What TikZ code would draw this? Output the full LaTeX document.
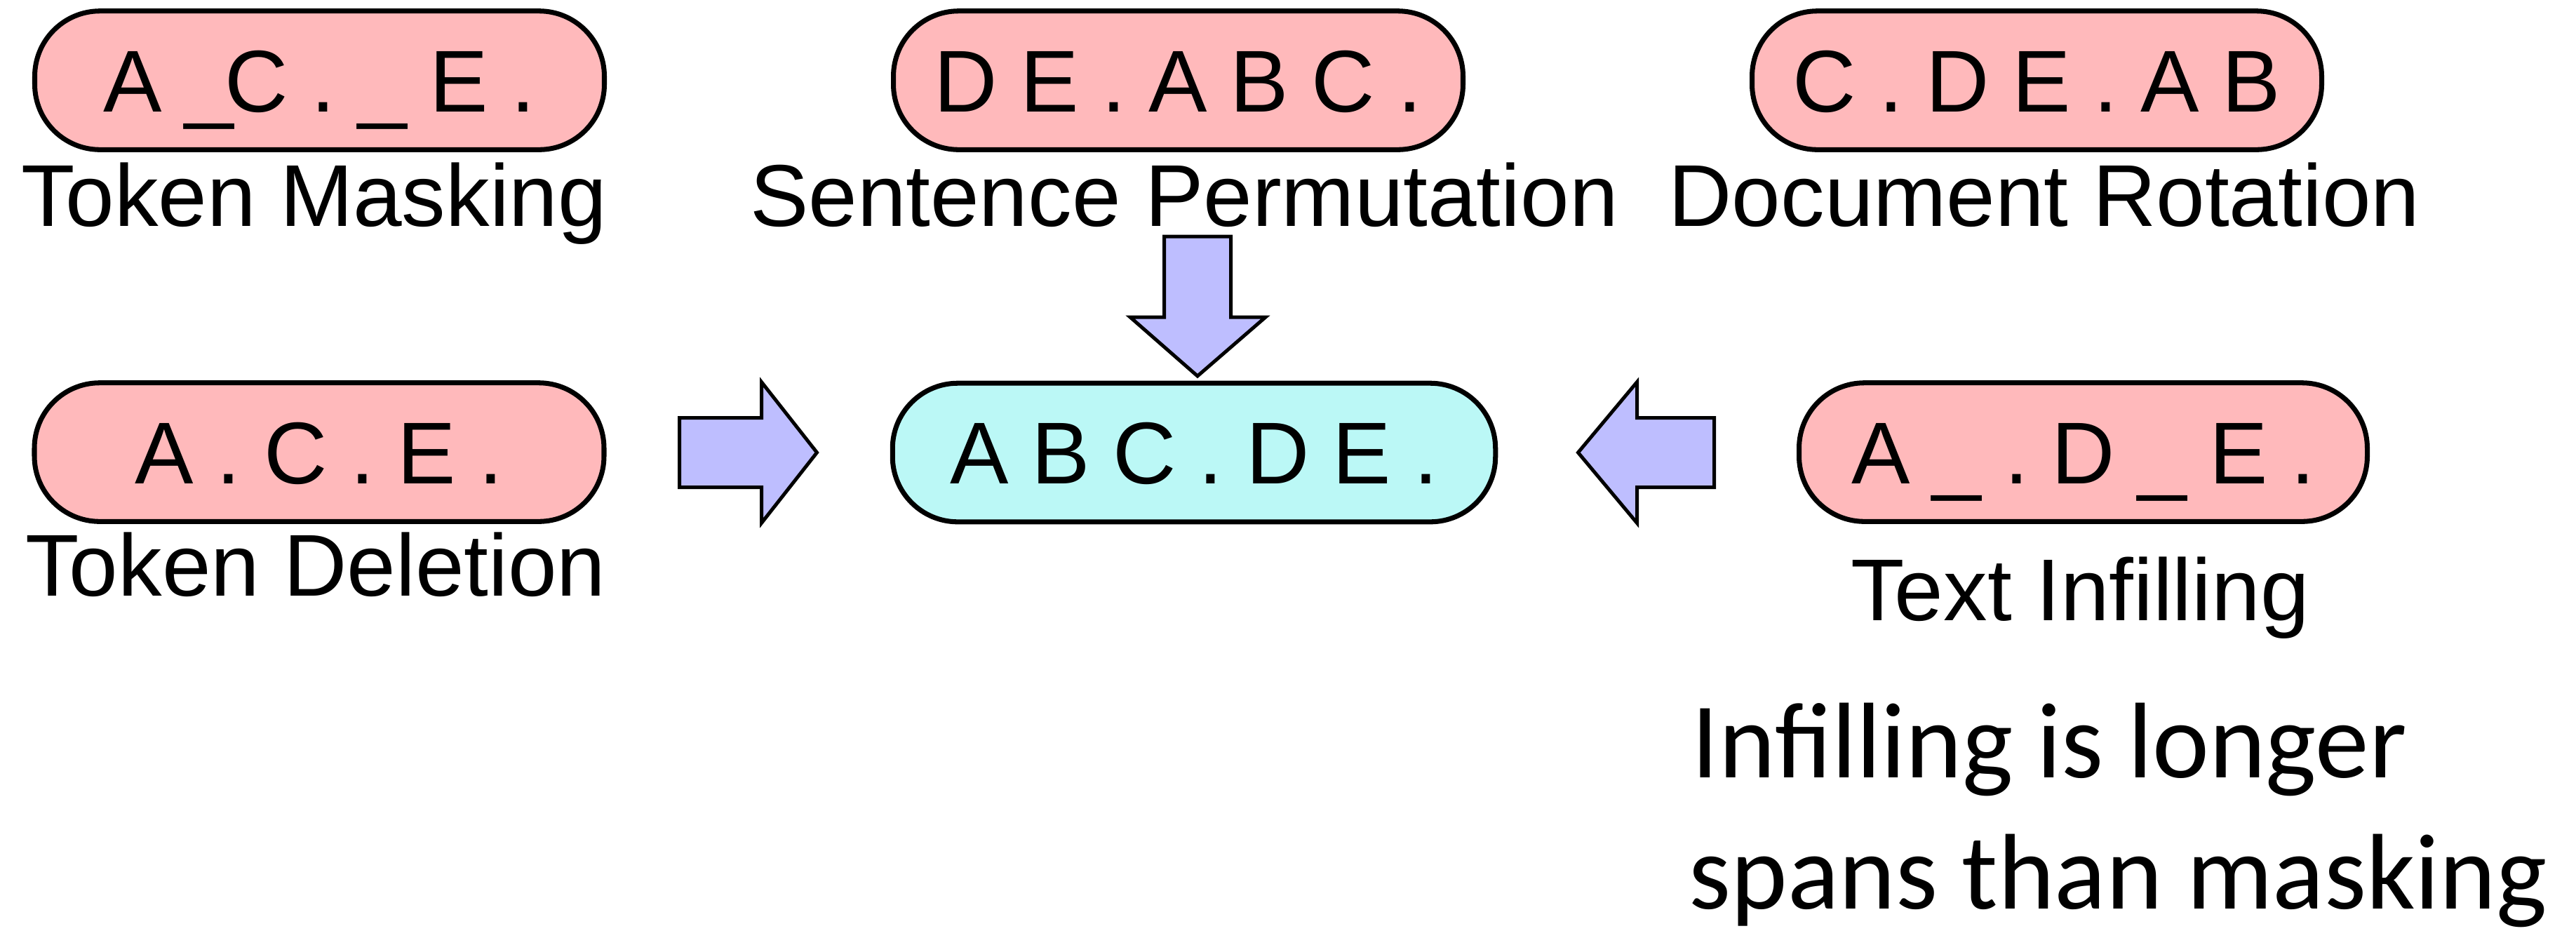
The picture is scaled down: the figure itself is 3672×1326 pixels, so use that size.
\documentclass[tikz,border=0pt]{standalone}
\usepackage{fontspec}
\setmainfont{Liberation Sans}
\newfontfamily\noteFont{Carlito}
\definecolor{pinkc}{RGB}{255,185,187}
\definecolor{cyanc}{RGB}{187,248,246}
\definecolor{lavc}{RGB}{190,190,255}
\begin{document}
\begin{tikzpicture}[x=0.01cm,y=-0.01cm,
  pill/.style={draw=black, line width=2pt, rounded corners=0.93cm,
    minimum width=8.115cm, minimum height=1.975cm, inner sep=0pt,
    text height=0.895cm, text depth=0cm,
    font=\fontsize{35.57pt}{42pt}\selectfont\addfontfeature{LetterSpace=26}},
  lbl/.style={anchor=base, inner sep=0pt, font=\fontsize{35.57pt}{42pt}\selectfont},
  note/.style={anchor=base west, inner sep=0pt, font=\noteFont\fontsize{43.6pt}{53pt}\selectfont},
  blockarrow/.style={draw=black, line width=1.42pt, fill=lavc, line join=miter}
]
\useasboundingbox (0,0) rectangle (3672,1326);

% pills
\node[pill, fill=pinkc] (tm) at (455.5,114.5) {A\_\kern-0.1em C.\_E.};
\node[pill, fill=pinkc] (sp) at (1679.5,114.5) {DE.ABC.};
\node[pill, fill=pinkc] (dr) at (2903.5,114.5) {C.DE.AB};
\node[pill, fill=pinkc] (td) at (455,644.5) {A.C.E.};
\node[pill, fill=cyanc, minimum width=8.59cm] (ct) at (1702,645) {ABC.DE.};
\node[pill, fill=pinkc, minimum width=8.095cm] (ti) at (2969.5,644.5) {A\_.D\_E.};

% labels
\node[lbl] (tml) at (448,322) {Token Masking};
\node[lbl] (spl) at (1688,322) {Sentence Permutation};
\node[lbl] (drl) at (2914,322) {Document Rotation};
\node[lbl] (tdl) at (450,849) {Token Deletion};
\node[lbl] (til) at (2965,884) {Text Infilling};

% note
\node[note] (n1) at (2411,1108) {Infilling is longer};
\node[note] (n2) at (2407,1295) {spans than masking};

% block arrows
\draw[blockarrow] (1659.5,337) -- (1754.5,337) -- (1754.5,452) -- (1804,452)
  -- (1707,536) -- (1611,452) -- (1659.5,452) -- cycle;
\draw[blockarrow] (968.5,595.5) -- (1085.5,595.5) -- (1085.5,544.5) -- (1164.5,645)
  -- (1085.5,745.5) -- (1085.5,694.5) -- (968.5,694.5) -- cycle;
\draw[blockarrow] (2443.5,595.5) -- (2333.5,595.5) -- (2333.5,544.5) -- (2249.5,645)
  -- (2333.5,745.5) -- (2333.5,694.5) -- (2443.5,694.5) -- cycle;
\end{tikzpicture}
\end{document}
